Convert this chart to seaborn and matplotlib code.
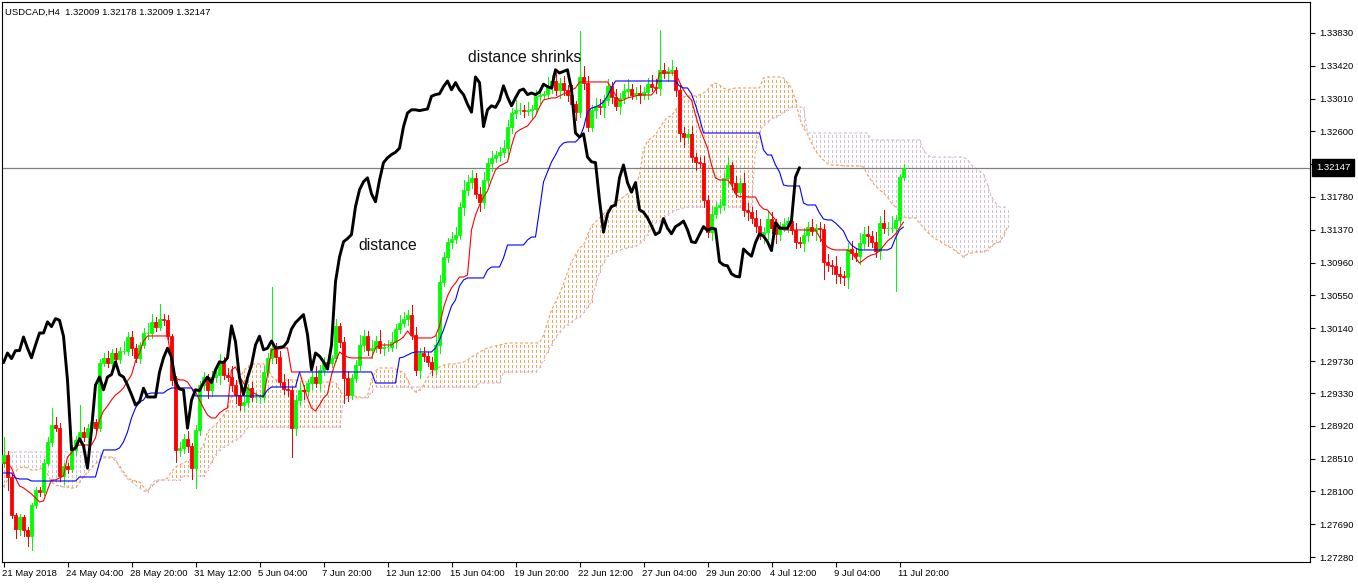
import numpy as np
import matplotlib
matplotlib.use("Agg")
import matplotlib.pyplot as plt
import matplotlib.transforms as mtransforms
import seaborn as sns

# ---------------- data ----------------
title_text = "USDCAD,H4  1.32009 1.32178 1.32009 1.32147"
last_price = 1.32147
first_open = 1.2846
chikou_shift = 26

close = [
    1.2856, 1.2828, 1.2781, 1.2763, 1.2778, 1.2762, 1.2754, 1.2793, 1.2812, 1.2809,
    1.2846, 1.2872, 1.2893, 1.2889, 1.2829, 1.2842, 1.2838, 1.2862, 1.2874, 1.2884,
    1.2878, 1.2889, 1.2897, 1.2889, 1.2971, 1.2977,
    1.2971, 1.2983, 1.2976, 1.2986, 1.2986, 1.3003, 1.2989, 1.2977, 1.2993, 1.3008,
    1.3008, 1.3022, 1.3016, 1.3026, 1.3024, 1.3004, 1.2949, 1.2862, 1.2864, 1.2876,
    1.2867, 1.2839, 1.2887, 1.2943, 1.2953, 1.2937, 1.2953, 1.2956, 1.2972, 1.2956,
    1.2953, 1.2943, 1.2931, 1.2918, 1.2922, 1.2939, 1.2928, 1.2928, 1.2928, 1.2959,
    1.2977, 1.2989, 1.2978, 1.2947, 1.2938, 1.2937, 1.2889, 1.2924, 1.2937, 1.2936,
    1.2946, 1.2953, 1.2946, 1.2962, 1.2972, 1.2971, 1.2977, 1.3017, 1.2997, 1.2952,
    1.2931, 1.2952, 1.2968, 1.2993, 1.3004, 1.2987, 1.2989, 1.2998, 1.2989, 1.2990,
    1.2991, 1.2997, 1.3013, 1.3021, 1.3026, 1.3031, 1.3006, 1.2962, 1.2983, 1.2979,
    1.2972, 1.2963, 1.2993, 1.3072, 1.3103, 1.3122, 1.3126, 1.3131, 1.3166, 1.3187,
    1.3197, 1.3202, 1.3182, 1.3172, 1.3199, 1.3221, 1.3227, 1.3231, 1.3234, 1.3239,
    1.3266, 1.3283, 1.3287, 1.3287, 1.3286, 1.3287, 1.3288, 1.3304, 1.3306, 1.3307,
    1.3316, 1.3323, 1.3312, 1.3321, 1.3312, 1.3306, 1.3294, 1.3284, 1.3328, 1.3321,
    1.3266, 1.3287, 1.3292, 1.3290, 1.3299, 1.3317, 1.3303, 1.3292, 1.3302, 1.3311,
    1.3313, 1.3306, 1.3308, 1.3306, 1.3309, 1.3319, 1.3316, 1.3314, 1.3337, 1.3333,
    1.3335, 1.3337, 1.3312, 1.3258, 1.3253, 1.3257, 1.3228, 1.3222, 1.3221, 1.3174,
    1.3134, 1.3157, 1.3166, 1.3168, 1.3202, 1.3218, 1.3196, 1.3184, 1.3196, 1.3162,
    1.3159, 1.3152, 1.3142, 1.3131, 1.3134, 1.3151, 1.3139, 1.3132, 1.3141, 1.3144,
    1.3148, 1.3137, 1.3122, 1.3121, 1.3131, 1.3141, 1.3136, 1.3139, 1.3138, 1.3097,
    1.3093, 1.3092, 1.3082, 1.3079, 1.3078, 1.3113, 1.3108, 1.3104, 1.3121, 1.3132,
    1.3129, 1.3122, 1.3111, 1.3146, 1.3139, 1.3139, 1.3139, 1.3149, 1.3203, 1.32147,
]

upper_wick_pips = [
    22, 4, 3, 2, 4, 2, 3, 3, 4, 3,
    4, 6, 21, 10, 6, 4, 3, 6, 5, 34,
    6, 5, 8, 4, 5, 6, 8, 5, 6, 4,
    12, 6, 8, 5, 4, 6, 12, 10, 6, 18,
    6, 6, 3, 5, 8, 6, 10, 4, 6, 5,
    6, 4, 8, 5, 10, 6, 8, 14, 6, 12,
    6, 5, 8, 6, 4, 8, 6, 76, 6, 8,
    10, 12, 4, 6, 8, 6, 5, 8, 14, 6,
    6, 5, 4, 8, 4, 6, 8, 5, 6, 12,
    8, 6, 10, 6, 14, 6, 8, 12, 6, 10,
    8, 6, 12, 10, 6, 8, 5, 6, 12, 8,
    6, 5, 8, 10, 6, 12, 8, 10, 6, 8,
    10, 6, 8, 5, 6, 10, 8, 6, 12, 8,
    6, 10, 5, 8, 6, 4, 12, 8, 10, 6,
    8, 6, 12, 4, 57, 14, 8, 6, 10, 8,
    6, 8, 5, 10, 6, 8, 12, 6, 8, 10,
    6, 8, 12, 10, 50, 8, 6, 12, 4, 6,
    8, 6, 10, 5, 6, 8, 6, 10, 6, 8,
    6, 10, 4, 8, 6, 12, 8, 6, 10, 8,
    6, 10, 8, 12, 6, 8, 5, 10, 8, 6,
    8, 6, 10, 5, 8, 6, 10, 6, 12, 8,
    6, 8, 10, 6, 12, 8, 10, 6, 12, 8,
    16, 8, 15, 6, 4, 4,
]

lower_wick_pips = [
    5, 16, 4, 11, 8, 8, 12, 17, 4, 5,
    4, 3, 5, 4, 6, 10, 5, 4, 6, 4,
    5, 6, 4, 6, 3, 4, 6, 8, 5, 6,
    4, 6, 8, 5, 6, 4, 8, 6, 5, 4,
    6, 4, 6, 15, 8, 6, 8, 14, 25, 6,
    6, 10, 8, 6, 12, 6, 5, 8, 10, 6,
    8, 6, 5, 6, 8, 6, 4, 6, 8, 5,
    6, 8, 36, 8, 6, 10, 6, 8, 5, 10,
    6, 8, 5, 4, 6, 31, 8, 6, 5, 6,
    8, 6, 10, 5, 6, 8, 5, 6, 8, 5,
    6, 8, 5, 6, 10, 6, 5, 8, 6, 10,
    5, 6, 8, 6, 5, 10, 6, 8, 5, 12,
    8, 6, 10, 5, 8, 6, 10, 8, 6, 5,
    8, 6, 10, 5, 8, 6, 5, 8, 6, 10,
    6, 8, 5, 10, 6, 8, 5, 6, 10, 8,
    12, 6, 8, 5, 10, 6, 8, 5, 6, 10,
    6, 8, 5, 6, 8, 6, 10, 5, 8, 10,
    12, 8, 6, 10, 5, 8, 6, 10, 5, 8,
    6, 10, 8, 6, 5, 8, 10, 6, 8, 6,
    10, 8, 6, 12, 8, 6, 10, 5, 8, 6,
    10, 8, 6, 12, 15, 22, 8, 10, 12, 8,
    10, 14, 8, 6, 10, 8, 12, 6, 8, 10,
    6, 8, 5, 78, 6, 4,
]

tenkan = [
    1.28455, 1.28455, 1.28393, 1.28268, 1.28168, 1.28143, 1.28105, 1.28068, 1.28018, 1.27968,
    1.27980, 1.28118, 1.28243, 1.28243, 1.28268, 1.28293, 1.28530, 1.28580, 1.28655, 1.28680,
    1.28680, 1.28680, 1.28680, 1.28768, 1.28993, 1.29105, 1.29168, 1.29243, 1.29305, 1.29343,
    1.29393, 1.29480, 1.29555, 1.29730, 1.29830, 1.29980, 1.30043, 1.30043, 1.30043, 1.30043,
    1.30043, 1.30043, 1.29743, 1.29518, 1.29493, 1.29493, 1.29468, 1.29393, 1.29343, 1.29243,
    1.29143, 1.29055, 1.29018, 1.29018, 1.29080, 1.29118, 1.29143, 1.29618, 1.29655, 1.29543,
    1.29455, 1.29393, 1.29343, 1.29318, 1.29293, 1.29280, 1.29555, 1.29868, 1.29880, 1.29880,
    1.29893, 1.29893, 1.29593, 1.29593, 1.29593, 1.29430, 1.29268, 1.29143, 1.29105, 1.29180,
    1.29268, 1.29318, 1.29555, 1.29718, 1.29843, 1.29805, 1.29780, 1.29768, 1.29768, 1.29768,
    1.29768, 1.29768, 1.29768, 1.29893, 1.29930, 1.29930, 1.29930, 1.29930, 1.29968, 1.29993,
    1.30030, 1.30105, 1.30043, 1.30018, 1.30018, 1.30018, 1.30018, 1.30018, 1.30043, 1.30168,
    1.30393, 1.30543, 1.30643, 1.30705, 1.30780, 1.30780, 1.30805, 1.31368, 1.31555, 1.31680,
    1.31780, 1.31855, 1.31993, 1.32118, 1.32168, 1.32193, 1.32218, 1.32418, 1.32580, 1.32618,
    1.32643, 1.32668, 1.32730, 1.32793, 1.32905, 1.32993, 1.33005, 1.33018, 1.33018, 1.33043,
    1.33068, 1.33093, 1.33118, 1.33143, 1.33218, 1.33218, 1.33218, 1.33218, 1.33218, 1.33218,
    1.33218, 1.33218, 1.33143, 1.33055, 1.32980, 1.32993, 1.33018, 1.33030, 1.33043, 1.33055,
    1.33055, 1.33055, 1.33055, 1.33118, 1.33330, 1.33330, 1.33330, 1.33330, 1.33330, 1.33218,
    1.33118, 1.33043, 1.32993, 1.32805, 1.32643, 1.32518, 1.32393, 1.32180, 1.32018, 1.31993,
    1.31993, 1.31993, 1.31930, 1.31818, 1.31780, 1.31793, 1.31780, 1.31780, 1.31780, 1.31680,
    1.31630, 1.31618, 1.31555, 1.31493, 1.31418, 1.31368, 1.31368, 1.31368, 1.31368, 1.31368,
    1.31368, 1.31368, 1.31368, 1.31368, 1.31280, 1.31205, 1.31155, 1.31130, 1.31118, 1.31118,
    1.31118, 1.31118, 1.31093, 1.31018, 1.30955, 1.30993, 1.31030, 1.31055, 1.31068, 1.31105,
    1.31168, 1.31230, 1.31268, 1.31318, 1.31393, 1.31468,
]

kijun = [
    1.28330, 1.28330, 1.28330, 1.28268, 1.28255, 1.28255, 1.28255, 1.28230, 1.28230, 1.28230,
    1.28230, 1.28230, 1.28230, 1.28230, 1.28230, 1.28230, 1.28230, 1.28230, 1.28230, 1.28280,
    1.28280, 1.28280, 1.28280, 1.28280, 1.28468, 1.28618, 1.28618, 1.28618, 1.28618, 1.28643,
    1.28718, 1.28843, 1.29018, 1.29143, 1.29218, 1.29243, 1.29318, 1.29330, 1.29330, 1.29330,
    1.29330, 1.29368, 1.29393, 1.29393, 1.29393, 1.29393, 1.29393, 1.29393, 1.29293, 1.29293,
    1.29293, 1.29293, 1.29293, 1.29293, 1.29293, 1.29293, 1.29293, 1.29293, 1.29293, 1.29293,
    1.29293, 1.29293, 1.29293, 1.29293, 1.29293, 1.29293, 1.29368, 1.29405, 1.29405, 1.29405,
    1.29405, 1.29405, 1.29405, 1.29405, 1.29593, 1.29593, 1.29593, 1.29593, 1.29593, 1.29593,
    1.29593, 1.29593, 1.29593, 1.29593, 1.29593, 1.29593, 1.29593, 1.29593, 1.29593, 1.29593,
    1.29593, 1.29593, 1.29593, 1.29455, 1.29455, 1.29455, 1.29455, 1.29455, 1.29455, 1.29768,
    1.29780, 1.29805, 1.29830, 1.29843, 1.29843, 1.29843, 1.29843, 1.29843, 1.29893, 1.29993,
    1.30118, 1.30268, 1.30418, 1.30493, 1.30668, 1.30743, 1.30768, 1.30768, 1.30768, 1.30768,
    1.30768, 1.30868, 1.30905, 1.30905, 1.30905, 1.31018, 1.31180, 1.31180, 1.31180, 1.31180,
    1.31180, 1.31243, 1.31280, 1.31280, 1.31618, 1.31968, 1.32093, 1.32218, 1.32305, 1.32405,
    1.32455, 1.32468, 1.32468, 1.32468, 1.32518, 1.32643, 1.32843, 1.32893, 1.32905, 1.32930,
    1.32968, 1.33043, 1.33143, 1.33230, 1.33230, 1.33230, 1.33230, 1.33230, 1.33230, 1.33230,
    1.33230, 1.33230, 1.33230, 1.33230, 1.33230, 1.33230, 1.33230, 1.33230, 1.33230, 1.33168,
    1.33143, 1.33143, 1.33068, 1.32930, 1.32768, 1.32580, 1.32580, 1.32580, 1.32580, 1.32580,
    1.32580, 1.32580, 1.32580, 1.32580, 1.32580, 1.32580, 1.32580, 1.32580, 1.32580, 1.32580,
    1.32368, 1.32305, 1.32305, 1.32180, 1.32093, 1.31930, 1.31918, 1.31918, 1.31918, 1.31918,
    1.31705, 1.31680, 1.31680, 1.31680, 1.31580, 1.31505, 1.31493, 1.31493, 1.31455, 1.31405,
    1.31355, 1.31243, 1.31180, 1.31143, 1.31118, 1.31118, 1.31118, 1.31118, 1.31118, 1.31118,
    1.31118, 1.31118, 1.31143, 1.31268, 1.31368, 1.31405,
]

senkou_a = [
    1.28155, 1.28243, 1.28318, 1.28355, 1.28393, 1.28405, 1.28393, 1.28368, 1.28368, 1.28380,
    1.28393, 1.28318, 1.28218, 1.28180, 1.28168, 1.28155, 1.28155, 1.28143, 1.28143, 1.28218,
    1.28280, 1.28343, 1.28393, 1.28443, 1.28493, 1.28530, 1.28530, 1.28530, 1.28480, 1.28418,
    1.28343, 1.28268, 1.28243, 1.28230, 1.28218, 1.28155, 1.28105, 1.28168, 1.28205, 1.28243,
    1.28243, 1.28268, 1.28343, 1.28405, 1.28430, 1.28455, 1.28480, 1.28505, 1.28555, 1.28605,
    1.28680, 1.28843, 1.28893, 1.28930, 1.28993, 1.29055, 1.29118, 1.29268, 1.29393, 1.29518,
    1.29605, 1.29655, 1.29693, 1.29693, 1.29693, 1.29693, 1.29643, 1.29543, 1.29493, 1.29493,
    1.29493, 1.29493, 1.29493, 1.29493, 1.29480, 1.29468, 1.29468, 1.29468, 1.29468, 1.29468,
    1.29468, 1.29468, 1.29468, 1.29468, 1.29368, 1.29293, 1.29305, 1.29305, 1.29293, 1.29280,
    1.29268, 1.29293, 1.29493, 1.29605, 1.29643, 1.29643, 1.29643, 1.29643, 1.29630, 1.29605,
    1.29593, 1.29493, 1.29393, 1.29343, 1.29368, 1.29430, 1.29518, 1.29593, 1.29618, 1.29655,
    1.29680, 1.29693, 1.29693, 1.29693, 1.29705, 1.29718, 1.29743, 1.29780, 1.29805, 1.29843,
    1.29868, 1.29893, 1.29905, 1.29918, 1.29930, 1.29943, 1.29955, 1.29955, 1.29955, 1.29955,
    1.29955, 1.29955, 1.29955, 1.29955, 1.29955, 1.30055, 1.30205, 1.30368, 1.30468, 1.30568,
    1.30693, 1.30843, 1.30968, 1.31055, 1.31143, 1.31180, 1.31305, 1.31418, 1.31468, 1.31518,
    1.31568, 1.31618, 1.31680, 1.31730, 1.31743, 1.31780, 1.31818, 1.31880, 1.31918, 1.32055,
    1.32368, 1.32480, 1.32518, 1.32555, 1.32643, 1.32718, 1.32780, 1.32793, 1.32868, 1.32943,
    1.33030, 1.33043, 1.33043, 1.33043, 1.33055, 1.33080, 1.33118, 1.33180, 1.33205, 1.33180,
    1.33143, 1.33118, 1.33130, 1.33143, 1.33143, 1.33143, 1.33143, 1.33143, 1.33143, 1.33143,
    1.33268, 1.33280, 1.33280, 1.33280, 1.33280, 1.33268, 1.33205, 1.33143, 1.32993, 1.32768,
    1.32643, 1.32568, 1.32455, 1.32355, 1.32293, 1.32243, 1.32193, 1.32180, 1.32180, 1.32180,
    1.32168, 1.32168, 1.32168, 1.32168, 1.32168, 1.32155, 1.32055, 1.31980, 1.31918, 1.31868,
    1.31830, 1.31780, 1.31705, 1.31655, 1.31605, 1.31530, 1.31518, 1.31518, 1.31518, 1.31455,
    1.31393, 1.31343, 1.31293, 1.31255, 1.31230, 1.31193, 1.31168, 1.31143, 1.31105, 1.31068,
    1.31030, 1.31068, 1.31080, 1.31093, 1.31093, 1.31093, 1.31118, 1.31168, 1.31205, 1.31218,
    1.31293, 1.31405,
]

senkou_b = [
    1.28593, 1.28593, 1.28593, 1.28593, 1.28593, 1.28593, 1.28593, 1.28593, 1.28593, 1.28593,
    1.28593, 1.28593, 1.28593, 1.28593, 1.28593, 1.28593, 1.28593, 1.28593, 1.28593, 1.28593,
    1.28593, 1.28593, 1.28593, 1.28593, 1.28593, 1.28518, 1.28518, 1.28518, 1.28518, 1.28393,
    1.28318, 1.28255, 1.28218, 1.28180, 1.28143, 1.28105, 1.28093, 1.28193, 1.28243, 1.28243,
    1.28243, 1.28243, 1.28243, 1.28243, 1.28243, 1.28293, 1.28293, 1.28293, 1.28293, 1.28293,
    1.28293, 1.28368, 1.28468, 1.28555, 1.28618, 1.28655, 1.28680, 1.28718, 1.28743, 1.28768,
    1.28818, 1.28893, 1.28905, 1.28905, 1.28905, 1.28905, 1.28905, 1.28905, 1.28905, 1.28905,
    1.28905, 1.28905, 1.28905, 1.28905, 1.28905, 1.28905, 1.28905, 1.28905, 1.28905, 1.28905,
    1.28905, 1.28905, 1.28905, 1.28905, 1.28905, 1.29243, 1.29268, 1.29268, 1.29268, 1.29268,
    1.29268, 1.29268, 1.29343, 1.29405, 1.29405, 1.29405, 1.29405, 1.29405, 1.29405, 1.29405,
    1.29405, 1.29405, 1.29405, 1.29405, 1.29405, 1.29405, 1.29405, 1.29405, 1.29405, 1.29405,
    1.29405, 1.29405, 1.29405, 1.29405, 1.29405, 1.29405, 1.29405, 1.29405, 1.29405, 1.29455,
    1.29455, 1.29455, 1.29455, 1.29455, 1.29455, 1.29593, 1.29593, 1.29593, 1.29593, 1.29593,
    1.29593, 1.29593, 1.29593, 1.29593, 1.29643, 1.29743, 1.29843, 1.29930, 1.30018, 1.30093,
    1.30143, 1.30180, 1.30218, 1.30255, 1.30280, 1.30330, 1.30405, 1.30468, 1.30680, 1.30843,
    1.30968, 1.31043, 1.31068, 1.31093, 1.31118, 1.31130, 1.31143, 1.31155, 1.31168, 1.31193,
    1.31243, 1.31305, 1.31393, 1.31455, 1.31480, 1.31518, 1.31555, 1.31593, 1.31618, 1.31630,
    1.31643, 1.31655, 1.31655, 1.31655, 1.31655, 1.31655, 1.31655, 1.31655, 1.31655, 1.31655,
    1.31655, 1.31655, 1.31655, 1.31655, 1.31655, 1.31655, 1.31655, 1.31655, 1.32368, 1.32593,
    1.32680, 1.32718, 1.32755, 1.32780, 1.32805, 1.32843, 1.32868, 1.32905, 1.32905, 1.32905,
    1.32905, 1.32580, 1.32580, 1.32580, 1.32580, 1.32580, 1.32580, 1.32580, 1.32580, 1.32580,
    1.32580, 1.32580, 1.32580, 1.32580, 1.32580, 1.32580, 1.32580, 1.32493, 1.32493, 1.32493,
    1.32493, 1.32493, 1.32493, 1.32493, 1.32493, 1.32493, 1.32493, 1.32493, 1.32493, 1.32493,
    1.32368, 1.32305, 1.32280, 1.32280, 1.32280, 1.32280, 1.32280, 1.32280, 1.32280, 1.32280,
    1.32280, 1.32243, 1.32180, 1.32143, 1.32105, 1.32068, 1.31930, 1.31780, 1.31705, 1.31655,
    1.31655, 1.31655,
]

x_tick_labels = ["21 May 2018", "24 May 04:00", "28 May 20:00", "31 May 12:00",
                 "5 Jun 04:00", "7 Jun 20:00", "12 Jun 12:00", "15 Jun 04:00",
                 "19 Jun 20:00", "22 Jun 12:00", "27 Jun 04:00", "29 Jun 20:00",
                 "4 Jul 12:00", "9 Jul 04:00", "11 Jul 20:00"]
y_tick_values = [1.33830, 1.33420, 1.33010, 1.32600, 1.32190, 1.31780, 1.31370,
                 1.30960, 1.30550, 1.30140, 1.29730, 1.29330, 1.28920, 1.28510,
                 1.28100, 1.27690, 1.27280]

# ---------------- style ----------------
sns.set_style("white")
plt.rcParams['font.family'] = ['Liberation Sans', 'DejaVu Sans']
plt.rcParams['lines.scale_dashes'] = False

GREEN = "#00ff00"
RED = "#ff0000"
BLUE = "#0000ff"
SANDY = "#f4a460"
THISTLE = "#d8bfd8"

Y0, Y1 = 1.272175, 1.342175
AX_H_PX = 560

fig = plt.figure(figsize=(13.58, 5.84), dpi=100)
ax = fig.add_axes([2 / 1358, 22 / 584, 1308 / 1358, AX_H_PX / 584])
ax.set_facecolor("white")

n = len(close)
idx = np.arange(n)
c = np.array(close)
o = np.r_[first_open, c[:-1]]
hi = np.maximum(o, c) + np.array(upper_wick_pips) * 1e-4
lo = np.minimum(o, c) - np.array(lower_wick_pips) * 1e-4
col = np.where(c >= o, GREEN, RED)

# cloud hatch: vertical dashed columns, dash phase aligned across columns
A = np.array(senkou_a)
B = np.array(senkou_b)
xa = np.arange(len(A))
bottoms = np.minimum(A, B)
tops = np.maximum(A, B)
hatch_col = np.where(A >= B, SANDY, THISTLE)
on_pt, off_pt = 1.8, 1.8
period = on_pt + off_pt
start_pt = (bottoms - Y0) * AX_H_PX / (Y1 - Y0) * 0.72
hatch_styles = [(float(h % period), (on_pt, off_pt)) for h in start_pt]
ax.vlines(xa, bottoms, tops, colors=hatch_col, linestyles=hatch_styles,
          linewidth=0.72, antialiased=False, zorder=1)
sns.lineplot(x=xa, y=A, ax=ax, color=SANDY, linewidth=0.85, linestyle=(0, (2.2, 1.5)),
             sort=False, estimator=None, zorder=1.5)
sns.lineplot(x=xa, y=B, ax=ax, color=THISTLE, linewidth=0.85, linestyle=(0, (2.2, 1.5)),
             sort=False, estimator=None, zorder=1.5)

# current price line
ax.axhline(last_price, color="#808080", linewidth=0.9, zorder=1.6)

# candles
ax.vlines(idx, lo, hi, colors=col, linewidth=0.72, antialiased=False, zorder=3)
ax.bar(idx, np.abs(c - o), bottom=np.minimum(o, c), width=0.62, color=col,
       edgecolor=col, linewidth=0.6, zorder=3.1)

# tenkan / kijun
sns.lineplot(x=idx, y=np.array(tenkan), ax=ax, color=RED, linewidth=0.8,
             sort=False, estimator=None, zorder=4)
sns.lineplot(x=idx, y=np.array(kijun), ax=ax, color=BLUE, linewidth=0.8,
             sort=False, estimator=None, zorder=4)

# chikou span (close shifted back)
sns.lineplot(x=idx[:n - chikou_shift], y=c[chikou_shift:], ax=ax, color="black",
             linewidth=2.1, sort=False, estimator=None, zorder=6)

# annotations
ax.text(116, 1.33518, "distance shrinks", fontsize=11.3, color="#111111",
        va="center", ha="left", zorder=7)
ax.text(88.75, 1.31180, "distance", fontsize=11.3, color="#111111",
        va="center", ha="left", zorder=7)

# axes
ax.set_xlim(-0.375, 326.625)
ax.set_ylim(Y0, Y1)
ax.yaxis.tick_right()
ax.set_yticks(y_tick_values)
# the 1.32190 label sits under the current-price box in the reference
ax.set_yticklabels(["" if abs(v - last_price) < 0.001 else f"{v:.5f}" for v in y_tick_values])
ax.tick_params(axis="y", direction="out", length=3.5, width=0.8, pad=3,
               labelsize=6.8, colors="black", right=True, left=False)
ax.set_xticks(np.arange(0, 225, 16))
ax.set_xticklabels(x_tick_labels, ha="left")
ax.tick_params(axis="x", direction="out", length=3.5, width=0.8, pad=1.5,
               labelsize=6.8, colors="black", bottom=True)
offset = mtransforms.ScaledTranslation(-1 / 100, 0, fig.dpi_scale_trans)
for lab in ax.get_xticklabels():
    lab.set_transform(lab.get_transform() + offset)
for sp in ax.spines.values():
    sp.set_color("black")
    sp.set_linewidth(0.8)
ax.set_xlabel("")
ax.set_ylabel("")
ax.grid(False)

# symbol title
ax.text(3 / 1308, 1 - 10 / 560, title_text, transform=ax.transAxes, fontsize=6.8,
        va="center", ha="left", color="black", zorder=8)

# current price box on the price scale
trans = mtransforms.blended_transform_factory(ax.transAxes, ax.transData)
ax.text(1.0 + 6 / 1308, last_price, f"{last_price:.5f}", transform=trans,
        fontsize=6.8, color="white", va="center", ha="left", zorder=10, clip_on=False,
        bbox=dict(boxstyle="square,pad=0.4", facecolor="black", edgecolor="black"))

fig.savefig("out.png", dpi=100, facecolor="white")
